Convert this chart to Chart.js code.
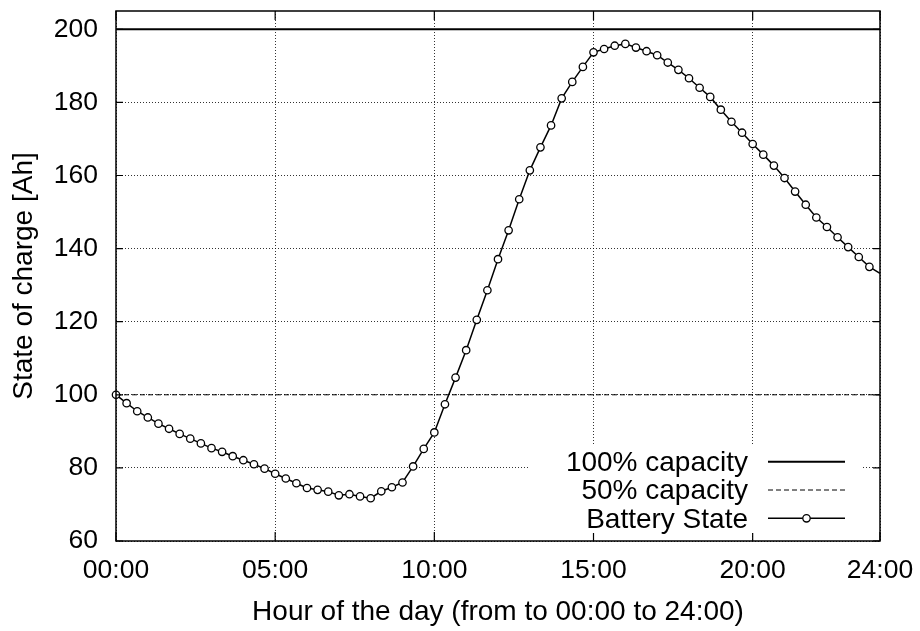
<!DOCTYPE html>
<html>
<head>
<meta charset="utf-8">
<script src="https://cdn.jsdelivr.net/npm/chart.js@4/dist/chart.umd.min.js"></script>
<style>
  html, body { margin: 0; padding: 0; background: #fff; }
  #wrap { width: 920px; height: 631px; }
</style>
</head>
<body>
<div id="wrap"><canvas id="chart" width="920" height="631"></canvas></div>
<script>
// samples every 20 minutes, 00:00 .. 24:00
const sampleStepMinutes = 20;
const batteryState = [
  100.0, 97.7, 95.5, 93.8, 92.1, 90.7, 89.3, 88.0, 86.7, 85.4, 84.4, 83.2,
  82.1, 81.0, 79.8, 78.4, 77.1, 75.8, 74.5, 74.0, 73.5, 72.5, 72.8, 72.2,
  71.7, 73.6, 74.7, 76.0, 80.4, 85.2, 89.7, 97.4, 104.7, 112.2, 120.5, 128.6,
  137.1, 145.0, 153.5, 161.4, 167.7, 173.7, 181.1, 185.6, 189.7, 193.7, 194.6, 195.5,
  196.0, 195.0, 194.0, 192.9, 190.9, 188.9, 186.6, 184.0, 181.5, 178.0, 174.7, 171.7,
  168.6, 165.7, 162.7, 159.3, 155.6, 152.0, 148.5, 145.9, 143.1, 140.4, 137.7, 135.0,
  133.2
];
const fullCapacity = [200, 200];
const halfCapacity = [100, 100];
const dayRange = [0, 24];
const xTicks = [0, 5, 10, 15, 20, 24];
const yTicks = [60, 80, 100, 120, 140, 160, 180, 200];
const seriesNames = ['100% capacity', '50% capacity', 'Battery State'];

const FONT = '"Liberation Sans", Arial, Helvetica, sans-serif';
const hourLabel = h => String(h).padStart(2, '0') + ':00';

const batteryPoints = batteryState.map((v, i) => ({ x: i * sampleStepMinutes / 60, y: v }));
const lastIdx = batteryPoints.length - 1;

// frame, inward tick marks and the gnuplot style key
const gnuplotDecor = {
  id: 'gnuplotDecor',
  afterDraw(chart) {
    const { ctx, chartArea: a, scales } = chart;
    ctx.save();
    ctx.strokeStyle = '#000';
    ctx.lineWidth = 1.5;
    ctx.strokeRect(a.left, a.top, a.right - a.left, a.bottom - a.top);
    ctx.lineWidth = 1.2;
    ctx.beginPath();
    xTicks.forEach(t => {
      const px = scales.x.getPixelForValue(t);
      ctx.moveTo(px, a.bottom); ctx.lineTo(px, a.bottom - 9);
      ctx.moveTo(px, a.top); ctx.lineTo(px, a.top + 9);
    });
    yTicks.forEach(t => {
      const py = scales.y.getPixelForValue(t);
      ctx.moveTo(a.left, py); ctx.lineTo(a.left + 7, py);
      ctx.moveTo(a.right, py); ctx.lineTo(a.right - 7, py);
    });
    ctx.stroke();

    // key
    ctx.fillStyle = '#fff';
    ctx.fillRect(528, 446, 333, 87);
    ctx.font = '28px ' + FONT;
    ctx.textAlign = 'right';
    ctx.textBaseline = 'alphabetic';
    chart.data.datasets.forEach((ds, i) => {
      const base = 471 + i * 28.3;
      const ly = base - 9.3;
      ctx.fillStyle = '#000';
      ctx.fillText(ds.label, 748, base);
      ctx.strokeStyle = '#000';
      ctx.lineWidth = ds.borderWidth;
      ctx.setLineDash(ds.borderDash || []);
      ctx.beginPath();
      ctx.moveTo(768, ly); ctx.lineTo(845, ly);
      ctx.stroke();
      ctx.setLineDash([]);
      if (ds.showMarker) {
        ctx.beginPath();
        ctx.arc(806.5, ly, 3.7, 0, Math.PI * 2);
        ctx.fillStyle = '#fff';
        ctx.fill();
        ctx.lineWidth = 1.3;
        ctx.stroke();
      }
    });
    ctx.restore();
  }
};

new Chart(document.getElementById('chart'), {
  type: 'line',
  data: {
    datasets: [
      {
        label: seriesNames[0],
        data: dayRange.map((x, i) => ({ x, y: fullCapacity[i] })),
        borderColor: '#000', borderWidth: 2, pointRadius: 0, order: 2
      },
      {
        label: seriesNames[1],
        data: dayRange.map((x, i) => ({ x, y: halfCapacity[i] })),
        borderColor: '#000', borderWidth: 1, borderDash: [5, 3], pointRadius: 0, order: 1
      },
      {
        label: seriesNames[2],
        data: batteryPoints,
        borderColor: '#000', borderWidth: 1.5,
        pointRadius: ctx => ctx.dataIndex === lastIdx ? 0 : 3.7,
        pointBorderWidth: 1.3,
        pointBackgroundColor: '#fff', pointBorderColor: '#000',
        tension: 0, clip: false, order: 0, showMarker: true
      }
    ]
  },
  options: {
    responsive: false,
    animation: false,
    events: [],
    layout: { padding: { left: 0, top: 11, right: 40, bottom: 0 } },
    plugins: { legend: { display: false }, tooltip: { enabled: false } },
    scales: {
      x: {
        type: 'linear', min: 0, max: 24,
        afterBuildTicks: s => { s.ticks = xTicks.map(v => ({ value: v })); },
        afterFit: s => { s.height = 90; s.paddingLeft = 0; s.paddingRight = 0; },
        ticks: { callback: v => hourLabel(v), color: '#000', font: { family: FONT, size: 26.5 }, padding: 14, maxRotation: 0 },
        grid: { color: 'rgba(0,0,0,0.8)', lineWidth: 1, drawTicks: false },
        border: { display: false, dash: [1, 2] },
        title: { display: true, text: 'Hour of the day (from to 00:00 to 24:00)', color: '#000', font: { family: FONT, size: 28 }, padding: { top: 0, bottom: 2 } }
      },
      y: {
        type: 'linear', min: 60, max: 205,
        afterBuildTicks: s => { s.ticks = yTicks.map(v => ({ value: v })); },
        afterFit: s => { s.width = 116; s.paddingTop = 0; s.paddingBottom = 0; },
        ticks: { color: '#000', font: { family: FONT, size: 26.5 }, padding: 18 },
        grid: { color: 'rgba(0,0,0,0.8)', lineWidth: 1, drawTicks: false },
        border: { display: false, dash: [1, 2] },
        title: { display: true, text: 'State of charge [Ah]', color: '#000', font: { family: FONT, size: 28 }, padding: { top: 7, bottom: 0 } }
      }
    }
  },
  plugins: [gnuplotDecor]
});
</script>
</body>
</html>
